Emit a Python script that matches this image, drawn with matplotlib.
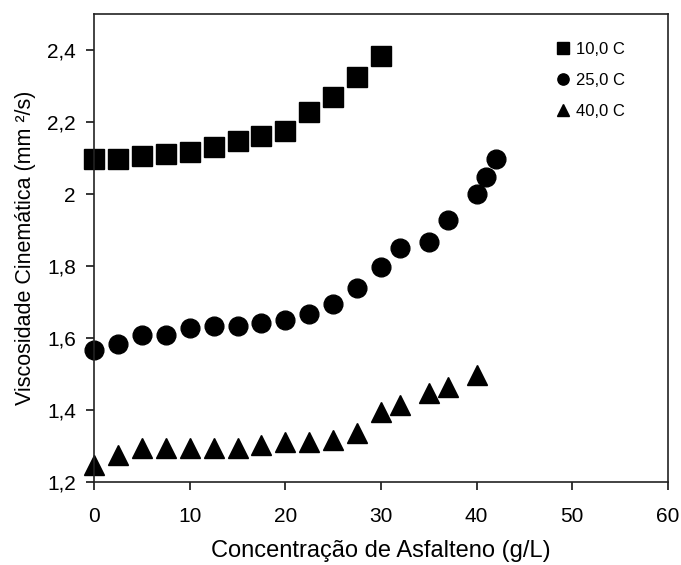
import matplotlib
matplotlib.use("Agg")
import matplotlib.pyplot as plt
from matplotlib.ticker import FuncFormatter

plt.rcParams['font.family'] = ['Liberation Sans', 'DejaVu Sans']

# Concentração (g/L) and viscosidade (mm2/s) per temperature
x_10 = [0, 2.5, 5, 7.5, 10, 12.5, 15, 17.5, 20, 22.5, 25, 27.5, 30]
y_10 = [2.097, 2.097, 2.105, 2.111, 2.116, 2.13, 2.148, 2.162, 2.176, 2.227, 2.269, 2.326, 2.384]

x_25 = [0, 2.5, 5, 7.5, 10, 12.5, 15, 17.5, 20, 22.5, 25, 27.5, 30, 32, 35, 37, 40, 41, 42]
y_25 = [1.566, 1.582, 1.609, 1.609, 1.628, 1.632, 1.632, 1.641, 1.651, 1.667, 1.695, 1.738,
        1.798, 1.849, 1.867, 1.927, 2.0, 2.046, 2.097]

x_40 = [0, 2.5, 5, 7.5, 10, 12.5, 15, 17.5, 20, 22.5, 25, 27.5, 30, 32, 35, 37, 40]
y_40 = [1.248, 1.276, 1.294, 1.294, 1.294, 1.294, 1.294, 1.303, 1.31, 1.312, 1.317, 1.335,
        1.395, 1.414, 1.448, 1.463, 1.496]

labels = ["10,0 C", "25,0 C", "40,0 C"]
x_ticks = [0, 10, 20, 30, 40, 50, 60]
y_ticks = [1.2, 1.4, 1.6, 1.8, 2.0, 2.2, 2.4]

fig = plt.figure(figsize=(6.81, 5.65), dpi=100)
ax = fig.add_axes([94 / 681, 1 - 482 / 565, 574 / 681, 468 / 565])

ax.plot(x_10, y_10, 's', color='black', markersize=14, linestyle='none', label=labels[0], clip_on=False)
ax.plot(x_25, y_25, 'o', color='black', markersize=13.5, linestyle='none', label=labels[1], clip_on=False)
ax.plot(x_40, y_40, '^', color='black', markersize=15, linestyle='none', label=labels[2], clip_on=False)

ax.set_xlim(0, 60)
ax.set_ylim(1.2, 2.5)
ax.set_xticks(x_ticks)
ax.set_yticks(y_ticks)
ax.yaxis.set_major_formatter(FuncFormatter(lambda v, p: ('%g' % round(v, 2)).replace('.', ',')))
ax.tick_params(direction='out', length=6, width=1.1, labelsize=15, colors='black')
ax.tick_params(axis='x', pad=12)
ax.tick_params(axis='y', pad=7)
for s in ax.spines.values():
    s.set_linewidth(1.2)
    s.set_color('#222222')

ax.set_xlabel("Concentração de Asfalteno (g/L)", fontsize=17, labelpad=10)
ax.set_ylabel("Viscosidade Cinemática (mm ²/s)", fontsize=15.5, labelpad=8)

ax.legend(loc='upper left', bbox_to_anchor=(556 / 681, 1 - 42 / 565), bbox_transform=fig.transFigure,
          frameon=False, fontsize=12, markerscale=0.6, handlelength=0.8, handletextpad=0.4,
          labelspacing=0.95, borderpad=0, borderaxespad=0)

fig.savefig("out.png", dpi=100)
